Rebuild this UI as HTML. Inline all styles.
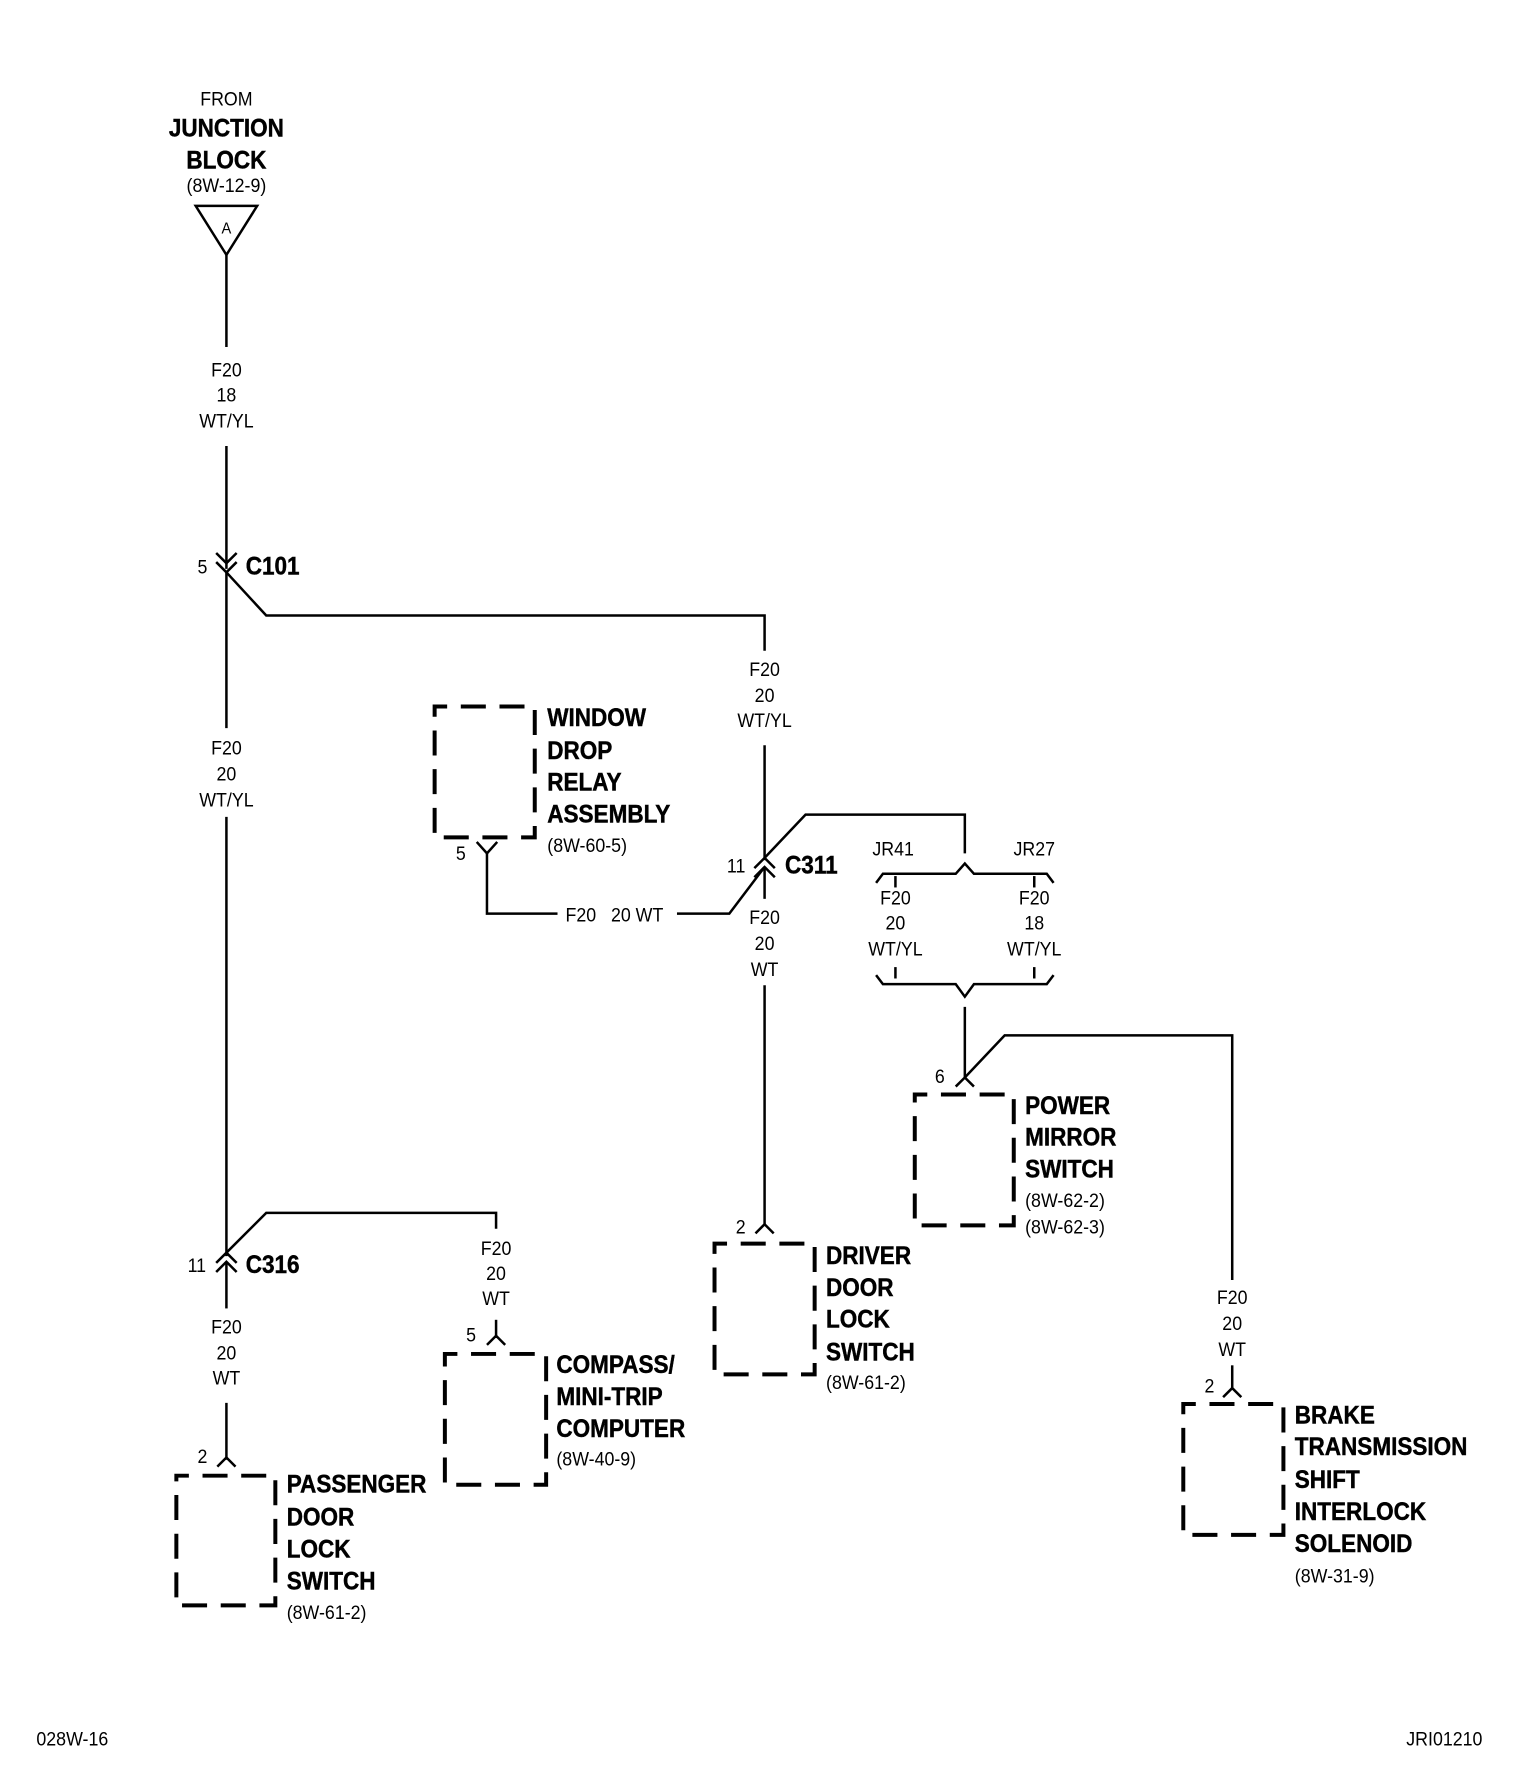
<!DOCTYPE html>
<html><head><meta charset="utf-8"><style>
html,body{margin:0;padding:0;background:#fff;}
svg{display:block;}
text{font-family:"Liberation Sans Narrow","Liberation Sans",sans-serif;fill:#000;transform-box:fill-box;}
.s{font-size:17px;text-anchor:middle;dominant-baseline:central;transform:scaleX(0.92);transform-origin:50% 50%;}
.sl{font-size:17px;dominant-baseline:central;transform:scaleX(0.92);transform-origin:0 50%;}
.b{font-size:22px;font-weight:bold;dominant-baseline:central;transform:scaleX(0.9);transform-origin:0 50%;stroke:#000;stroke-width:0.4;}
.bc{font-size:22px;font-weight:bold;dominant-baseline:central;text-anchor:middle;transform:scaleX(0.9);transform-origin:50% 50%;stroke:#000;stroke-width:0.4;}
</style></head><body>
<svg width="1536" height="1788" viewBox="0 0 1350 1571.5" preserveAspectRatio="none" xmlns="http://www.w3.org/2000/svg">
<g fill="none" stroke="#000" stroke-width="2.2">
<polygon points="172,181 226,181 199,224"/>
<line x1="199" y1="224" x2="199" y2="305"/>
<line x1="199" y1="392" x2="199" y2="500"/>
<polyline points="190,486 199,495 208,486"/>
<polyline points="190,494 199,503 208,494"/>
<polyline points="199,503 234,541 672,541 672,572"/>
<line x1="199" y1="503" x2="199" y2="640"/>
<line x1="672" y1="655" x2="672" y2="756"/>
<line x1="199" y1="718" x2="199" y2="1104"/>
<polyline points="190,1110 199,1101 208,1110"/>
<polyline points="190,1118 199,1109 208,1118"/>
<polyline points="199,1101 234,1066 436,1066 436,1080"/>
<line x1="199" y1="1109" x2="199" y2="1150"/>
<line x1="199" y1="1233" x2="199" y2="1283"/>
<polyline points="191,1289 199,1281 207,1289"/>
<line x1="436" y1="1160" x2="436" y2="1176"/>
<polyline points="428,1182 436,1174 444,1182"/>
<polyline points="419,740 428,750 437,740"/>
<polyline points="428,750 428,803 490,803"/>
<polyline points="595,803 641,803 672,762"/>
<polyline points="663,763 672,754 681,763"/>
<polyline points="663,771 672,762 681,771"/>
<polyline points="672,754 708,716 848,716 848,750"/>
<line x1="672" y1="762" x2="672" y2="790"/>
<line x1="672" y1="866" x2="672" y2="1076"/>
<polyline points="664,1084 672,1076 680,1084"/>
<polyline points="770,776 776,768 840,768 848,759 856,768 920,768 926,776"/>
<line x1="787" y1="770" x2="787" y2="780"/>
<line x1="909" y1="770" x2="909" y2="780"/>
<line x1="787" y1="850" x2="787" y2="860"/>
<line x1="909" y1="850" x2="909" y2="860"/>
<polyline points="770,857 776,865 840,865 848,876 856,865 920,865 926,857"/>
<line x1="848" y1="885" x2="848" y2="947"/>
<polyline points="840,955 848,947 856,955"/>
<polyline points="848,947 883,910 1083,910 1083,1125"/>
<line x1="1083" y1="1200" x2="1083" y2="1220"/>
<polyline points="1075,1228 1083,1220 1091,1228"/>
</g>
<g fill="none" stroke="#000" stroke-width="3.5" stroke-dasharray="22,12">
<rect x="155" y="1297" width="87" height="114" stroke-dashoffset="11"/>
<rect x="391" y="1190" width="89" height="115" stroke-dashoffset="11"/>
<rect x="382" y="621" width="88" height="115" stroke-dashoffset="11"/>
<rect x="628" y="1093" width="88" height="115" stroke-dashoffset="11"/>
<rect x="804" y="962" width="87" height="115" stroke-dashoffset="11"/>
<rect x="1040" y="1234" width="88" height="115" stroke-dashoffset="11"/>
</g>
<text class="s" x="199" y="87">FROM</text>
<text class="bc" x="199" y="113">JUNCTION</text>
<text class="bc" x="199" y="141">BLOCK</text>
<text class="s" x="199" y="163">(8W-12-9)</text>
<text class="s" x="199" y="201" style="font-size:14px">A</text>
<text class="s" x="199" y="325">F20</text><text class="s" x="199" y="347">18</text><text class="s" x="199" y="370">WT/YL</text>
<text class="s" x="178" y="498">5</text><text class="b" x="216" y="498">C101</text>
<text class="s" x="672" y="588">F20</text><text class="s" x="672" y="611">20</text><text class="s" x="672" y="633">WT/YL</text>
<text class="s" x="199" y="657">F20</text><text class="s" x="199" y="680">20</text><text class="s" x="199" y="703">WT/YL</text>
<text class="b" x="481" y="631">WINDOW</text><text class="b" x="481" y="660">DROP</text><text class="b" x="481" y="688">RELAY</text><text class="b" x="481" y="716">ASSEMBLY</text><text class="sl" x="481" y="743">(8W-60-5)</text>
<text class="s" x="405" y="750">5</text>
<text class="sl" x="497" y="804">F20&#160;&#160;&#160;20 WT</text>
<text class="s" x="647" y="761">11</text><text class="b" x="690" y="761">C311</text>
<text class="s" x="672" y="806">F20</text><text class="s" x="672" y="829">20</text><text class="s" x="672" y="852">WT</text>
<text class="s" x="785" y="746">JR41</text><text class="s" x="909" y="746">JR27</text>
<text class="s" x="787" y="789">F20</text><text class="s" x="787" y="811">20</text><text class="s" x="787" y="834">WT/YL</text>
<text class="s" x="909" y="789">F20</text><text class="s" x="909" y="811">18</text><text class="s" x="909" y="834">WT/YL</text>
<text class="s" x="826" y="946">6</text>
<text class="b" x="901" y="972">POWER</text><text class="b" x="901" y="1000">MIRROR</text><text class="b" x="901" y="1028">SWITCH</text><text class="sl" x="901" y="1055">(8W-62-2)</text><text class="sl" x="901" y="1078">(8W-62-3)</text>
<text class="s" x="651" y="1078">2</text>
<text class="b" x="726" y="1104">DRIVER</text><text class="b" x="726" y="1132">DOOR</text><text class="b" x="726" y="1160">LOCK</text><text class="b" x="726" y="1189">SWITCH</text><text class="sl" x="726" y="1215">(8W-61-2)</text>
<text class="s" x="1083" y="1140">F20</text><text class="s" x="1083" y="1163">20</text><text class="s" x="1083" y="1186">WT</text>
<text class="s" x="1063" y="1218">2</text>
<text class="b" x="1138" y="1244">BRAKE</text><text class="b" x="1138" y="1272">TRANSMISSION</text><text class="b" x="1138" y="1301">SHIFT</text><text class="b" x="1138" y="1329">INTERLOCK</text><text class="b" x="1138" y="1357">SOLENOID</text><text class="sl" x="1138" y="1385">(8W-31-9)</text>
<text class="s" x="173" y="1112">11</text><text class="b" x="216" y="1112">C316</text>
<text class="s" x="436" y="1097">F20</text><text class="s" x="436" y="1119">20</text><text class="s" x="436" y="1141">WT</text>
<text class="s" x="414" y="1173">5</text>
<text class="b" x="489" y="1200">COMPASS/</text><text class="b" x="489" y="1228">MINI-TRIP</text><text class="b" x="489" y="1256">COMPUTER</text><text class="sl" x="489" y="1282">(8W-40-9)</text>
<text class="s" x="199" y="1166">F20</text><text class="s" x="199" y="1189">20</text><text class="s" x="199" y="1211">WT</text>
<text class="s" x="178" y="1280">2</text>
<text class="b" x="252" y="1305">PASSENGER</text><text class="b" x="252" y="1334">DOOR</text><text class="b" x="252" y="1362">LOCK</text><text class="b" x="252" y="1390">SWITCH</text><text class="sl" x="252" y="1417">(8W-61-2)</text>
<text class="sl" x="32" y="1528">028W-16</text>
<text class="sl" x="1236" y="1528">JRI01210</text>
</svg>
</body></html>
